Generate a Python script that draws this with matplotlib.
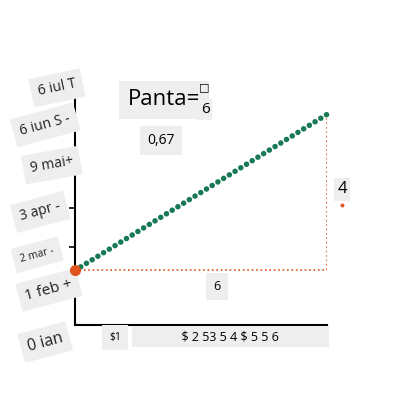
import matplotlib
matplotlib.use("Agg")
import matplotlib.pyplot as plt

plt.rcParams['font.family'] = ['Open Sans', 'DejaVu Sans']

# slope illustration: line from (0, 1.4) to (6, 5.4), run 6, rise 4
line_x = [0, 6]
line_y = [1.4, 5.4]
run = 6
rise = 4
slope_txt = "0,67"

y_labels = ["0 ian", "1 feb +", "2 mar -", "3 apr -", "9 mai+", "6 iun S -", "6 iul T"]
# where each rotated month label sits (x offset, y) - they are scattered in the original
y_lab_x = [-0.71, -0.62, -0.9, -0.83, -0.55, -0.71, -0.43]
y_lab_y = [-0.44, 0.9, 1.8, 2.9, 4.1, 5.13, 6.08]
y_lab_fs = [11.5, 11, 7.5, 10, 10, 10, 10]
y_lab_rot = [15, 15, 15, 15, 10, 15, 12]

x_ticks = [1, 2, 3, 4, 5, 6]
x_label_first = "$1"
x_label_rest = r"\$ 2 53 5 4 \$ 5 5 6"

grey = "#eeeeee"
green = "#187a55"
red = "#e0531d"

fig = plt.figure(figsize=(4, 4), dpi=100)
ax = fig.add_axes([0.1875, 0.1875, 0.63, 0.585])
ax.set_xlim(0, 6)
ax.set_ylim(0, 6)

for s in ["top", "right"]:
    ax.spines[s].set_visible(False)
for s in ["left", "bottom"]:
    ax.spines[s].set_linewidth(1.5)

ax.set_xticks(x_ticks)
ax.set_xticklabels([])
ax.set_yticks([1, 2, 3, 4, 5, 6])
ax.set_yticklabels([])
ax.tick_params(length=4, width=1.2)

# red dotted triangle
ax.plot([line_x[0], line_x[0] + run], [line_y[0], line_y[0]], linestyle=":",
        color=red, linewidth=1.2)
ax.plot([line_x[1], line_x[1]], [line_y[0], line_y[0] + rise], linestyle=":",
        color=red, linewidth=1.2)

# green dotted line, dots from a round-capped dash pattern
ax.plot(line_x, line_y, color=green, linewidth=4, linestyle=(0, (0.01, 1.2)),
        dash_capstyle="round", solid_capstyle="round", clip_on=False)
ax.plot([line_x[0]], [line_y[0]], marker="o", markersize=7, color=red, clip_on=False,
        zorder=5)

box = dict(facecolor=grey, edgecolor="none", pad=5)

# month labels on the y side
for lab, xx, yy, fs, rot in zip(y_labels, y_lab_x, y_lab_y, y_lab_fs, y_lab_rot):
    ax.text(xx, yy, lab, fontsize=fs, rotation=rot, ha="center", va="center",
            bbox=box, clip_on=False, color="#222222")

# x labels
ax.text(0.95, -0.31, x_label_first, fontsize=7.5, ha="center", va="center",
        bbox=dict(facecolor=grey, edgecolor="none", pad=5), clip_on=False)
ax.text(3.7, -0.3, "              " + x_label_rest + "              ", fontsize=9,
        ha="center", va="center", bbox=dict(facecolor=grey, edgecolor="none", pad=3),
        clip_on=False)

# slope text
ax.text(2.12, 5.77, "Panta=", fontsize=16, ha="center", va="center",
        bbox=dict(facecolor=grey, edgecolor="none", pad=6))
ax.text(3.08, 6.08, "\u25a1", fontsize=8, ha="center", va="center")
ax.text(3.1, 5.52, str(run), fontsize=11, ha="center", va="center",
        bbox=dict(facecolor=grey, edgecolor="none", pad=2))
ax.text(2.05, 4.74, slope_txt, fontsize=10, ha="center", va="center", bbox=box)

ax.text(3.38, 1.0, str(run), fontsize=9, ha="center", va="center", bbox=box)
ax.text(6.36, 3.48, str(rise), fontsize=12, ha="center", va="center",
        bbox=dict(facecolor=grey, edgecolor="none", pad=2.5), clip_on=False)
ax.plot([6.36], [3.07], marker="o", markersize=1.8, color=red, clip_on=False, zorder=5)

fig.savefig("out.png", dpi=100)
